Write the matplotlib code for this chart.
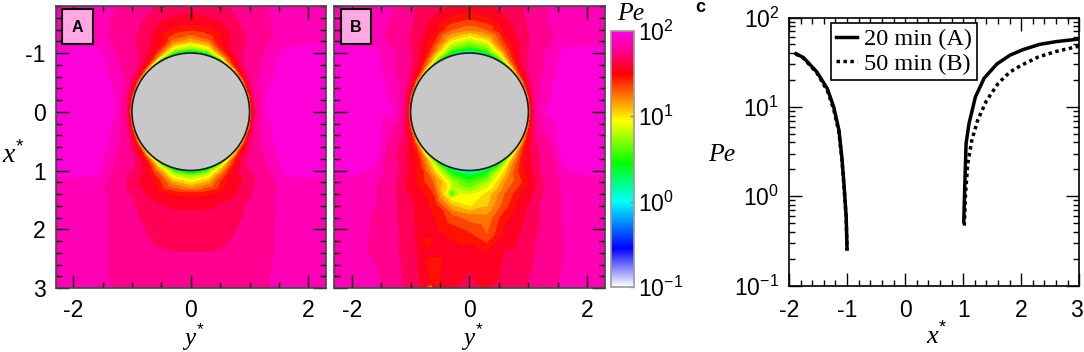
import numpy as np
import matplotlib
matplotlib.use('Agg')
import matplotlib.pyplot as plt
from matplotlib.colors import LinearSegmentedColormap, LogNorm
from matplotlib.cm import ScalarMappable
from matplotlib.patches import Circle, Rectangle
from matplotlib.ticker import MultipleLocator, LogLocator, NullFormatter
from matplotlib.transforms import ScaledTranslation

plt.rcParams['font.family'] = 'Liberation Sans'
plt.rcParams['axes.unicode_minus'] = False
plt.rcParams['mathtext.fontset'] = 'custom'
plt.rcParams['mathtext.rm'] = 'Liberation Sans'
plt.rcParams['mathtext.it'] = 'Liberation Serif:italic'
plt.rcParams['mathtext.default'] = 'regular'

W, H = 1084, 352

# log10(Pe). angles go from upstream (top, 0) to downstream (bottom, 180)
ring_r = [1.0, 1.02, 1.05, 1.1, 1.2, 1.3]
ring_angle = [0, 15, 30, 45, 60, 75, 90, 105, 120, 135, 150, 165, 180]

a_ring = [
    [-.3, -.3, -.2, -.1, 0, 0, 0, 0, 0, -.1, -.2, -.3, -.3],
    [.15, .2, .45, .75, 1.0, 1.1, 1.15, 1.1, 1.0, .75, .45, .25, .2],
    [.5, .55, .85, 1.2, 1.35, 1.45, 1.48, 1.45, 1.32, 1.12, .8, .55, .45],
    [.78, .85, 1.2, 1.5, 1.62, 1.7, 1.72, 1.7, 1.6, 1.42, 1.08, .8, .72],
    [1.08, 1.15, 1.5, 1.68, 1.76, 1.83, 1.85, 1.82, 1.74, 1.62, 1.35, 1.05, .98],
    [1.27, 1.35, 1.6, 1.74, 1.83, 1.9, 1.92, 1.88, 1.8, 1.7, 1.5, 1.25, 1.18],
]
b_ring_right = [
    [-.3, -.3, -.2, -.1, 0, 0, 0, 0, 0, -.1, -.2, -.3, -.3],
    [.05, .12, .35, .7, .95, 1.1, 1.15, 1.1, .95, .7, .35, .15, .05],
    [.3, .35, .65, 1.1, 1.3, 1.42, 1.48, 1.4, 1.22, .95, .55, .3, .2],
    [.55, .62, .95, 1.35, 1.58, 1.68, 1.72, 1.64, 1.45, 1.18, .8, .5, .4],
    [.75, .85, 1.25, 1.58, 1.72, 1.8, 1.85, 1.78, 1.6, 1.38, 1.05, .7, .55],
    [1.0, 1.1, 1.42, 1.68, 1.8, 1.88, 1.92, 1.84, 1.68, 1.5, 1.2, .88, .68],
]
b_ring_left = [
    [-.3, -.3, -.2, -.1, 0, 0, 0, 0, 0, -.1, -.2, -.3, -.3],
    [.05, .12, .35, .7, .95, 1.1, 1.15, 1.1, .95, .7, .35, .15, .05],
    [.3, .35, .65, 1.1, 1.3, 1.42, 1.48, 1.4, 1.24, .98, .6, .3, .2],
    [.55, .62, .95, 1.35, 1.58, 1.68, 1.72, 1.62, 1.46, 1.22, .85, .5, .4],
    [.75, .85, 1.25, 1.58, 1.72, 1.8, 1.85, 1.74, 1.6, 1.42, 1.08, .75, .55],
    [1.0, 1.1, 1.42, 1.68, 1.8, 1.88, 1.92, 1.8, 1.66, 1.52, 1.28, .95, .68],
]

far_x = [-1.8, -1.6, -1.4, -1.2, -1.0, -.5, 0, .5, 1.0, 1.2, 1.4, 1.6, 1.8, 2.1, 2.4, 3.0]

a_far_y = [0, .3, .6, .9, 1.2, 1.6, 2.0, 2.3]
a_far = [
    [1.66, 1.67, 1.71, 1.77, 1.83, 1.87, 1.87, 1.87],
    [1.59, 1.61, 1.67, 1.75, 1.82, 1.87, 1.87, 1.87],
    [1.42, 1.46, 1.60, 1.72, 1.81, 1.88, 1.88, 1.88],
    [1.10, 1.20, 1.45, 1.70, 1.80, 1.88, 1.89, 1.89],
    [0, 0, 0, 1.50, 1.82, 1.94, 1.95, 1.94],
    [0, 0, 0, 0, 1.86, 1.97, 1.98, 1.97],
    [0, 0, 0, 0, 1.86, 1.97, 1.98, 1.97],
    [0, 0, 0, 0, 1.86, 1.97, 1.98, 1.97],
    [0, 0, 0, 1.48, 1.78, 1.93, 1.94, 1.93],
    [1.05, 1.15, 1.40, 1.62, 1.76, 1.88, 1.89, 1.89],
    [1.46, 1.48, 1.56, 1.66, 1.78, 1.88, 1.88, 1.88],
    [1.60, 1.60, 1.65, 1.71, 1.79, 1.87, 1.88, 1.88],
    [1.64, 1.65, 1.67, 1.72, 1.80, 1.87, 1.87, 1.87],
    [1.68, 1.68, 1.70, 1.74, 1.80, 1.87, 1.87, 1.87],
    [1.72, 1.72, 1.73, 1.76, 1.80, 1.87, 1.87, 1.87],
    [1.76, 1.76, 1.77, 1.79, 1.82, 1.87, 1.88, 1.88],
]

b_far_y = [-2.3, -2, -1.6, -1.2, -.9, -.6, -.3, 0, .3, .6, .9, 1.2, 1.6, 2, 2.3]
b_far = [
    [1.87, 1.87, 1.87, 1.83, 1.71, 1.66, 1.60, 1.56, 1.60, 1.66, 1.71, 1.83, 1.87, 1.87, 1.87],
    [1.87, 1.87, 1.88, 1.82, 1.70, 1.60, 1.48, 1.42, 1.48, 1.60, 1.70, 1.82, 1.88, 1.87, 1.87],
    [1.88, 1.88, 1.88, 1.80, 1.68, 1.54, 1.30, 1.22, 1.30, 1.54, 1.68, 1.80, 1.88, 1.88, 1.88],
    [1.89, 1.89, 1.88, 1.78, 1.66, 1.38, 1.08, .95, 1.08, 1.38, 1.66, 1.78, 1.88, 1.89, 1.89],
    [1.94, 1.95, 1.93, 1.82, 1.55, 0, 0, 0, 0, 0, 1.55, 1.82, 1.93, 1.95, 1.94],
    [1.97, 1.98, 1.96, 1.84, 0, 0, 0, 0, 0, 0, 0, 1.84, 1.96, 1.98, 1.97],
    [1.97, 1.98, 1.96, 1.84, 0, 0, 0, 0, 0, 0, 0, 1.84, 1.96, 1.98, 1.97],
    [1.97, 1.98, 1.96, 1.82, 0, 0, 0, 0, 0, 0, 0, 1.82, 1.96, 1.98, 1.97],
    [1.92, 1.93, 1.90, 1.72, 1.50, 0, 0, 0, 0, 0, 1.50, 1.72, 1.90, 1.93, 1.92],
    [1.88, 1.88, 1.85, 1.70, 1.50, 1.15, .70, .55, .70, 1.05, 1.40, 1.68, 1.86, 1.88, 1.88],
    [1.88, 1.88, 1.85, 1.70, 1.56, 1.38, .50, .88, 1.02, 1.30, 1.50, 1.70, 1.85, 1.88, 1.88],
    [1.88, 1.87, 1.84, 1.71, 1.60, 1.46, 1.10, .98, 1.08, 1.35, 1.58, 1.72, 1.85, 1.88, 1.88],
    [1.87, 1.87, 1.83, 1.71, 1.60, 1.50, 1.34, 1.25, 1.22, 1.46, 1.60, 1.72, 1.85, 1.87, 1.87],
    [1.86, 1.86, 1.83, 1.72, 1.61, 1.54, 1.48, 1.42, 1.30, 1.52, 1.64, 1.73, 1.84, 1.86, 1.86],
    [1.87, 1.86, 1.83, 1.72, 1.62, 1.56, 1.55, 1.58, 1.50, 1.62, 1.67, 1.74, 1.84, 1.87, 1.87],
    [1.90, 1.90, 1.86, 1.74, 1.66, 1.55, 1.60, 1.65, 1.60, 1.67, 1.71, 1.76, 1.86, 1.90, 1.90],
]

# small features of map B: x*, y*, log10(Pe)
spot_x = [1.4, 1.4, 1.28, 1.52, 2.2, 2.55, 3.0, 3.0, 3.0, 2.9]
spot_y = [-.45, -.15, -.3, -.3, -.7, -.65, -.65, -.5, -.8, -.65]
spot_v = [1.05, .9, .8, 1.0, 1.42, 1.42, .95, 1.5, 1.5, 1.5]

# panel c curves
left_x = [-1.88, -1.75, -1.52, -1.34, -1.23, -1.14, -1.09, -1.05, -1.015, -1.0]
left_pe = [39.4, 35.6, 24.6, 16.0, 10.0, 5.5, 2.75, 1.28, .59, .257]
left_pe_b = [39.0, 35.0, 24.0, 15.2, 9.4, 5.2, 2.6, 1.22, .56, .25]
right_x_a = [1.01, 1.03, 1.05, 1.10, 1.21, 1.36, 1.58, 1.81, 2.03, 2.32, 2.60, 3.0]
right_pe_a = [.52, 1.5, 3.9, 6.5, 12.9, 20.9, 30.2, 38, 43.7, 50.1, 53.7, 57.5]
right_x_b = [1.02, 1.04, 1.08, 1.15, 1.25, 1.40, 1.60, 1.80, 2.0, 2.3, 2.6, 3.0]
right_pe_b = [.47, 1.07, 2.34, 4.27, 7.1, 11.7, 18.2, 24.5, 29.2, 36.3, 41.7, 47.9]
c_xticks = [-2, -1, 0, 1, 2, 3]

cmap_stops = [(-1, '#ffffff'), (-.55, '#0000ff'), (0, '#00ffff'), (.45, '#00ff00'),
              (.95, '#ffff00'), (1.5, '#ff0000'), (1.75, '#ff0082'), (2, '#ff00e6')]


def axes_px(x0, y0, x1, y1):
    return fig.add_axes([x0 / W, 1 - y1 / H, (x1 - x0) / W, (y1 - y0) / H])


def label_px(x, y, s, **kw):
    fig.text(x / W, 1 - y / H, s, ha='center', va='center', **kw)


def ring_points(table, sign):
    px, py, pv = [], [], []
    for r, row in zip(ring_r, table):
        for ang, v in zip(ring_angle, row):
            t = np.radians(ang)
            px.append(-r * np.cos(t))
            py.append(sign * r * np.sin(t))
            pv.append(v)
    return px, py, pv


def far_points(ys, table):
    px, py, pv = [], [], []
    for x, row in zip(far_x, table):
        for y, v in zip(ys, row):
            if np.hypot(x, y) > 1.35:
                px.append(x)
                py.append(y)
                pv.append(v)
    return px, py, pv


def style_map(ax, letter):
    ax.set_xlim(-2.3, 2.3)
    ax.set_ylim(3, -1.8)
    ax.xaxis.set_major_locator(MultipleLocator(2))
    ax.xaxis.set_minor_locator(MultipleLocator(.5))
    ax.yaxis.set_major_locator(MultipleLocator(1))
    ax.yaxis.set_minor_locator(MultipleLocator(.2))
    ax.tick_params(which='major', direction='in', length=9.4, width=1, top=True, right=True,
                   labelsize=16.5)
    ax.tick_params(axis='x', which='major', pad=8)
    ax.tick_params(axis='y', which='major', pad=7)
    ax.tick_params(which='minor', direction='in', length=4.5, width=1, top=True, right=True)
    for s in ax.spines.values():
        s.set_color('#3c4a45')
        s.set_linewidth(1.2)
    ax.add_patch(Circle((0, 0), 1, fc='#c8c8c8', ec='#1a1a2a', lw=1.2, zorder=3))
    ax.add_patch(Rectangle((.025, .865), .113, .124, transform=ax.transAxes, fc='#ffa8e4',
                           ec='black', lw=1.5, zorder=5))
    ax.text(.08, .925, letter, transform=ax.transAxes, ha='center', va='center',
            fontsize=11.5, fontweight='bold', zorder=6)


fig = plt.figure(figsize=(W / 100, H / 100), dpi=100)

stops = [((v + 1) / 3, c) for v, c in cmap_stops]
cmap = LinearSegmentedColormap.from_list('pe', stops, N=256)
levels = list(np.arange(-1, 1.51, .1)) + [1.62, 1.72, 1.84, 1.91, 2.0]

# panel A, mirrored about y*=0
rx, ry, rv = ring_points(a_ring, 1)
fx, fy, fv = far_points(a_far_y, a_far)
ax_x = rx + fx
ax_y = ry + fy
ax_v = rv + fv
mx = np.array(ax_x + ax_x)
my = np.array(ax_y + [-v for v in ax_y])
mv = np.array(ax_v + ax_v)
keep = np.unique(np.round(np.c_[mx, my], 5), axis=0, return_index=True)[1]
ax1 = axes_px(55.5, 6, 326, 288)
ax1.tricontourf(my[keep], mx[keep], mv[keep], levels=levels, cmap=cmap, vmin=-1, vmax=2)
style_map(ax1, 'A')

# panel B
r1x, r1y, r1v = ring_points(b_ring_right, 1)
r2x, r2y, r2v = ring_points(b_ring_left, -1)
fx, fy, fv = far_points(b_far_y, b_far)
bx = np.array(r1x + r2x + fx + spot_x)
by = np.array(r1y + r2y + fy + spot_y)
bv = np.array(r1v + r2v + fv + spot_v)
keep = np.unique(np.round(np.c_[bx, by], 5), axis=0, return_index=True)[1]
ax2 = axes_px(334, 6, 605, 288)
ax2.tricontourf(by[keep], bx[keep], bv[keep], levels=levels, cmap=cmap, vmin=-1, vmax=2)
style_map(ax2, 'B')
ax2.tick_params(which='both', labelleft=False)

# colour bar
cax = axes_px(611, 30.5, 634, 287)
sm = ScalarMappable(norm=LogNorm(.1, 100), cmap=cmap)
cb = fig.colorbar(sm, cax=cax)
cb.set_ticks([.1, 1, 10, 100])
cb.ax.yaxis.set_minor_locator(LogLocator(subs=[], numticks=5))
cb.ax.tick_params(which='major', direction='in', length=3, width=1, color='#888888',
                  labelsize=16.5, pad=3)
cb.outline.set_edgecolor('#999999')
cb.outline.set_linewidth(1.2)
label_px(631, 14, 'Pe', family='Liberation Serif', style='italic', fontsize=18.5)

label_px(13, 155, r'$\mathit{x}^{*}$', fontsize=20)
label_px(193, 337.5, r'$\mathit{y}^{*}$', fontsize=18)
label_px(472, 337.5, r'$\mathit{y}^{*}$', fontsize=18)

# panel c
ax3 = axes_px(789, 17.5, 1079.3, 285.7)
ax3.plot(left_x, left_pe_b, color='black', lw=2.5, ls=(0, (1, 1)))
ax3.plot(right_x_b, right_pe_b, color='black', lw=2.5, ls=(0, (1, 1)), label='50 min (B)')
ax3.plot(left_x, left_pe, color='black', lw=2.5)
ax3.plot(right_x_a, right_pe_a, color='black', lw=2.5, label='20 min (A)')
ax3.set_yscale('log')
ax3.set_xlim(-2, 3)
ax3.set_ylim(.1, 100)
ax3.set_xticks(c_xticks)
ax3.xaxis.set_minor_locator(MultipleLocator(.2))
ax3.yaxis.set_minor_locator(LogLocator(subs=np.arange(2, 10), numticks=5))
ax3.yaxis.set_minor_formatter(NullFormatter())
ax3.tick_params(which='major', direction='in', length=9.4, width=1, top=True, right=True,
                labelsize=16.5)
ax3.tick_params(axis='x', which='major', pad=9.5)
ax3.tick_params(axis='y', which='major', pad=7)
ax3.tick_params(which='minor', direction='in', length=4.5, width=1, top=True, right=True)
for s in ax3.spines.values():
    s.set_linewidth(1.2)
# keep the last tick label inside the image
last = ax3.get_xticklabels()[-1]
last.set_transform(last.get_transform() + ScaledTranslation(-.03, 0, fig.dpi_scale_trans))
handles, labels = ax3.get_legend_handles_labels()
leg = ax3.legend(handles[::-1], labels[::-1], loc='upper left', bbox_to_anchor=(.144, .978),
                 prop={'family': 'Liberation Serif', 'size': 17.5}, frameon=True, fancybox=False,
                 edgecolor='black', framealpha=1, borderpad=.2, labelspacing=.1,
                 handlelength=.87, handletextpad=.3, borderaxespad=0)
leg.get_frame().set_linewidth(1.2)
label_px(722, 155, 'Pe', family='Liberation Serif', style='italic', fontsize=18.5)
label_px(937, 336, r'$\mathit{x}^{*}$', fontsize=19)
label_px(700, 8, 'c', fontsize=13, fontweight='bold')

fig.savefig('out.png', dpi=100)
